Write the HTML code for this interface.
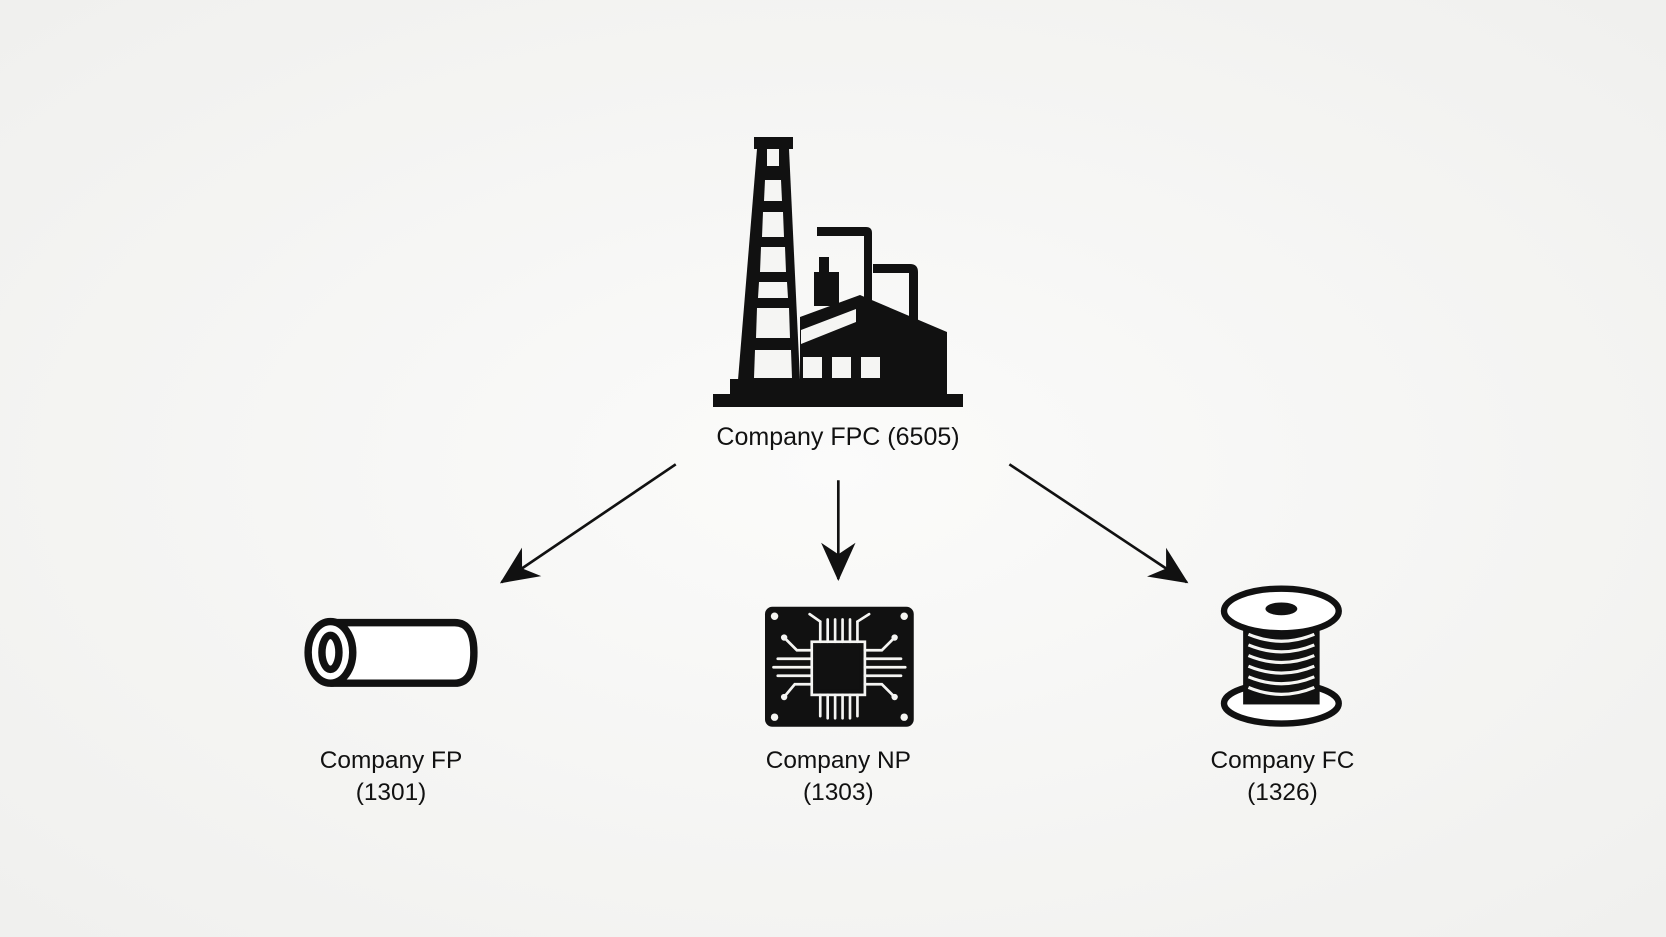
<!DOCTYPE html>
<html><head><meta charset="utf-8"><style>
html,body{margin:0;padding:0;background:#f5f5f3;}
svg{display:block}
text{font-family:"Liberation Sans",sans-serif;fill:#111}
</style></head><body>
<svg width="1666" height="937" viewBox="0 0 1666 937" xmlns="http://www.w3.org/2000/svg">
<defs>
<radialGradient id="bg" cx="50%" cy="50%" r="70%">
<stop offset="0" stop-color="#fbfbfa"/><stop offset="1" stop-color="#f0f0ee"/>
</radialGradient>
<marker id="ah" viewBox="0 0 40 40" refX="38" refY="20" markerWidth="36" markerHeight="36" markerUnits="userSpaceOnUse" orient="auto">
<path d="M0,2 L40,20 L0,38 L12,20 Z" fill="#111"/>
</marker>
</defs>
<rect width="1666" height="937" fill="url(#bg)"/>

<g fill="#111">
<rect x="713" y="394" width="250" height="13"/>
<rect x="730" y="379" width="80" height="16"/>
<rect x="754" y="137" width="39" height="12"/>
<polygon points="757,149 789,149 800,380 738,380"/>
<polygon points="800,317 860,295 947,332 947,394 800,394"/>
<rect x="814" y="272" width="25" height="34"/>
<rect x="819" y="257" width="10" height="18"/>
<path d="M817,227 H866 Q872,227 872,233 V305 H864 V236 H817 Z"/>
<path d="M873,264 H910 Q918,264 918,272 V326 H909 V273 H873 Z"/>
</g>
<g fill="#f5f5f3">
<rect x="767" y="149" width="12" height="17"/>
<polygon points="765,180 781,180 782,201 764,201"/>
<polygon points="763,212 783,212 784,237 762,237"/>
<polygon points="761,247 785,247 786,272 760,272"/>
<polygon points="759,282 787,282 788,298 758,298"/>
<polygon points="757,308 789,308 790,338 756,338"/>
<polygon points="755,350 791,350 792,378 754,378"/>
<polygon points="801,330 856,309 856,322 801,344"/>
<rect x="803" y="357" width="19" height="21"/>
<rect x="832" y="357" width="19" height="21"/>
<rect x="861" y="357" width="19" height="21"/>
</g>
<text x="838" y="445" font-size="25" text-anchor="middle">Company FPC (6505)</text>

<g transform="scale(1.0625)">
<g stroke="#111" stroke-width="2.5" fill="none">
<line x1="636" y1="437" x2="472" y2="548" marker-end="url(#ah)"/>
<line x1="789" y1="452" x2="789" y2="545" marker-end="url(#ah)"/>
<line x1="950" y1="437" x2="1117" y2="548" marker-end="url(#ah)"/>
</g>

<g stroke="#111" stroke-width="7" fill="#fff">
<path d="M311,586 H428 Q446,586 446,614 Q446,643 428,643 H311"/>
<ellipse cx="311" cy="614" rx="21" ry="29"/>
<ellipse cx="311" cy="614" rx="8" ry="16"/>
</g>

<rect x="720" y="571" width="140" height="113" rx="7" fill="#111"/>
<g stroke="#f5f5f3" stroke-width="2.5" fill="none" stroke-linecap="round">
<rect x="764" y="604" width="50" height="50"/>
<path d="M772,604 V585 M779,604 V583 M786,604 V583 M793,604 V583 M800,604 V583 M807,604 V585"/>
<path d="M772,654 V674 M779,654 V676 M786,654 V676 M793,654 V676 M800,654 V676 M807,654 V674"/>
<path d="M764,612 H750 L738,600 M764,620 H732 M764,628 H728 M764,636 H732 M764,644 H748 L738,656"/>
<path d="M814,612 H830 L842,600 M814,620 H848 M814,628 H852 M814,636 H848 M814,644 H830 L842,656"/>
<path d="M772,585 L762,578 M807,585 L818,578"/>
</g>
<g fill="#f5f5f3">
<circle cx="729" cy="580" r="3.5"/><circle cx="851" cy="580" r="3.5"/>
<circle cx="729" cy="675" r="3.5"/><circle cx="851" cy="675" r="3.5"/>
<circle cx="738" cy="600" r="3"/><circle cx="842" cy="600" r="3"/>
<circle cx="738" cy="656" r="3"/><circle cx="842" cy="656" r="3"/>
</g>
<rect x="769" y="609" width="40" height="40" fill="#111"/>

<g>
<ellipse cx="1206" cy="662" rx="54" ry="19" fill="#fff" stroke="#111" stroke-width="6"/>
<rect x="1170" y="575" width="72" height="88" fill="#111"/>
<g stroke="#f5f5f3" stroke-width="3" fill="none">
<path d="M1175,597 Q1206,610 1237,597"/>
<path d="M1175,607 Q1206,620 1237,607"/>
<path d="M1175,617 Q1206,630 1237,617"/>
<path d="M1175,627 Q1206,640 1237,627"/>
<path d="M1175,637 Q1206,650 1237,637"/>
<path d="M1175,647 Q1206,660 1237,647"/>
</g>
<ellipse cx="1206" cy="575" rx="54" ry="21" fill="#fff" stroke="#111" stroke-width="6"/>
<ellipse cx="1206" cy="573" rx="15" ry="6" fill="#111"/>
</g>

<g font-size="23" text-anchor="middle">
<text x="368" y="723">Company FP</text><text x="368" y="753">(1301)</text>
<text x="789" y="723">Company NP</text><text x="789" y="753">(1303)</text>
<text x="1207" y="723">Company FC</text><text x="1207" y="753">(1326)</text>
</g>
</g>
</svg>
</body></html>
